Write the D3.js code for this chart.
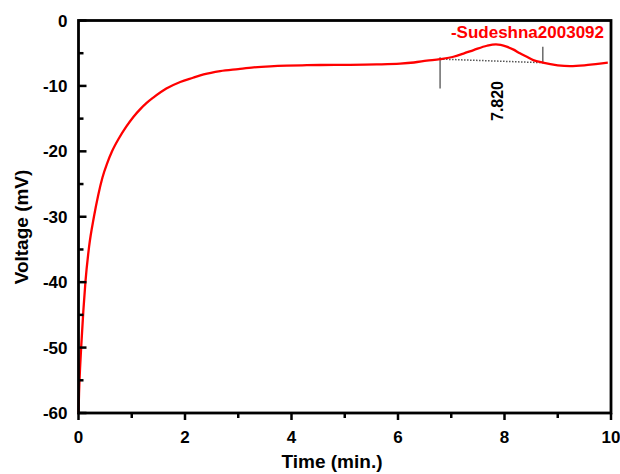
<!DOCTYPE html>
<html>
<head>
<meta charset="utf-8">
<script src="https://cdn.jsdelivr.net/npm/d3@7"></script>
<style>
  body { margin: 0; background: #fff; }
  svg text { font-family: "Liberation Sans", Arial, sans-serif; font-weight: bold; }
</style>
</head>
<body>
<div class="chart-container"></div>
<script>
var margin = {top: 20.5, right: 9, bottom: 61, left: 78.5};
var width = 620 - margin.left - margin.right;
var height = 474 - margin.top - margin.bottom;

// time (min.) vs voltage (mV)
var times = [0, 0.01, 0.03, 0.05, 0.09, 0.13, 0.2, 0.29, 0.37, 0.45, 0.54, 0.63, 0.76, 0.9, 1.03, 1.16, 1.28, 1.41,
  1.65, 1.91, 2.15, 2.35, 2.66, 3.0, 3.29, 3.6, 3.91, 4.2, 4.54, 5.1, 5.6, 6.04, 6.3, 6.54, 6.79, 7.04, 7.23, 7.42,
  7.67, 7.84, 8.04, 8.17, 8.29, 8.42, 8.54, 8.72, 9.0, 9.23, 9.5, 9.75, 9.94];
var voltages = [-60, -57, -53, -50, -44.5, -40, -34.5, -30, -26.7, -24, -21.8, -20, -18.0, -16.2, -14.75, -13.55, -12.6, -11.75,
  -10.4, -9.4, -8.75, -8.24, -7.73, -7.42, -7.17, -7.0, -6.9, -6.85, -6.8, -6.78, -6.72, -6.6, -6.42, -6.15, -5.9, -5.54, -5.05, -4.52,
  -3.86, -3.65, -4.0, -4.45, -5.02, -5.55, -6.05, -6.45, -6.85, -6.97, -6.85, -6.62, -6.45];

var xTicks = [0, 2, 4, 6, 8, 10];
var yTicks = [0, -10, -20, -30, -40, -50, -60];
var xMinor = [1, 3, 5, 7, 9];
var yMinor = [-5, -15, -25, -35, -45, -55];

// peak annotation
var peakLabel = '7.820';
var peakTime = 7.84;
var baseStart = [6.79, -5.9];
var baseEnd = [8.72, -6.45];
var leftMarker = [6.79, -5.6, -10.4];
var rightMarker = [8.72, -4.0, -6.5];
var seriesName = '-Sudeshna2003092';

var data = times.map((t, i) => ({t: t, v: voltages[i]}));

var x = d3.scaleLinear().domain([0, 10]).range([margin.left, margin.left + width]);
var y = d3.scaleLinear().domain([-60, 0]).range([margin.top + height, margin.top]);

var svg = d3.select('.chart-container').append('svg')
  .attr('width', 620)
  .attr('height', 474);

var line = d3.line()
  .x(d => x(d.t))
  .y(d => y(d.v))
  .curve(d3.curveMonotoneX);

// baseline + markers
svg.append('line')
  .attr('x1', x(baseStart[0])).attr('y1', y(baseStart[1]))
  .attr('x2', x(baseEnd[0])).attr('y2', y(baseEnd[1]))
  .attr('stroke', '#555').attr('stroke-width', 1.5)
  .attr('stroke-dasharray', '1.5,1.5');

[leftMarker, rightMarker].forEach(m => {
  svg.append('line')
    .attr('x1', x(m[0])).attr('x2', x(m[0]))
    .attr('y1', y(m[1])).attr('y2', y(m[2]))
    .attr('stroke', '#444').attr('stroke-width', 1.2);
});

svg.append('path')
  .datum(data)
  .attr('d', line)
  .attr('fill', 'none')
  .attr('stroke', '#ff0000')
  .attr('stroke-width', 2.3);

// frame
svg.append('rect')
  .attr('x', margin.left).attr('y', margin.top)
  .attr('width', width).attr('height', height)
  .attr('fill', 'none').attr('stroke', '#000').attr('stroke-width', 2.8);

// axes
var gX = svg.append('g')
  .attr('transform', `translate(0,${margin.top + height})`);
gX.selectAll('.major').data(xTicks).enter().append('line')
  .attr('x1', d => x(d)).attr('x2', d => x(d))
  .attr('y1', 0).attr('y2', 7)
  .attr('stroke', '#000').attr('stroke-width', 2.5);
gX.selectAll('.minor').data(xMinor).enter().append('line')
  .attr('x1', d => x(d)).attr('x2', d => x(d))
  .attr('y1', 0).attr('y2', 5)
  .attr('stroke', '#000').attr('stroke-width', 2.5);
gX.selectAll('text').data(xTicks).enter().append('text')
  .attr('x', d => x(d)).attr('y', 30)
  .attr('text-anchor', 'middle')
  .attr('font-size', 17)
  .text(d => d);

var gY = svg.append('g')
  .attr('transform', `translate(${margin.left},0)`);
gY.selectAll('.major').data(yTicks).enter().append('line')
  .attr('x1', 0).attr('x2', 8)
  .attr('y1', d => y(d)).attr('y2', d => y(d))
  .attr('stroke', '#000').attr('stroke-width', 2.5);
gY.selectAll('.minor').data(yMinor).enter().append('line')
  .attr('x1', 0).attr('x2', 5)
  .attr('y1', d => y(d)).attr('y2', d => y(d))
  .attr('stroke', '#000').attr('stroke-width', 2.5);
gY.selectAll('text').data(yTicks).enter().append('text')
  .attr('x', -11).attr('y', d => y(d) + 6)
  .attr('text-anchor', 'end')
  .attr('font-size', 17)
  .text(d => d);

// axis titles
svg.append('text')
  .attr('x', 332).attr('y', 468)
  .attr('text-anchor', 'middle')
  .attr('font-size', 19)
  .text('Time (min.)');

svg.append('text')
  .attr('transform', 'translate(28,227) rotate(-90)')
  .attr('text-anchor', 'middle')
  .attr('font-size', 19)
  .text('Voltage (mV)');

// annotations
svg.append('text')
  .attr('transform', `translate(${x(peakTime) + 7},101) rotate(-90)`)
  .attr('text-anchor', 'middle')
  .attr('font-size', 16)
  .text(peakLabel);

svg.append('text')
  .attr('x', 604).attr('y', 38)
  .attr('text-anchor', 'end')
  .attr('font-size', 17)
  .attr('fill', '#ff0000')
  .text(seriesName);
</script>
</body>
</html>
